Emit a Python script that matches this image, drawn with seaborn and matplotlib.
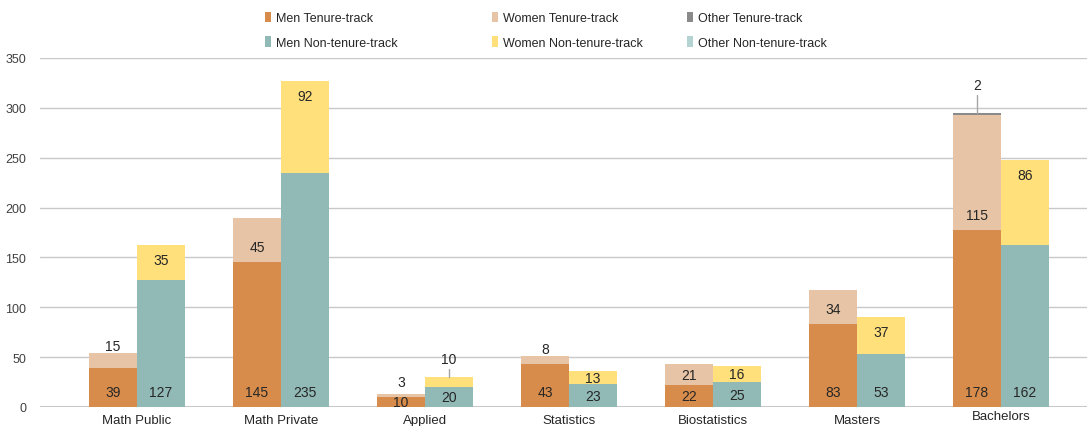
import pandas as pd
import seaborn as sns
import matplotlib.pyplot as plt
from matplotlib.patches import Patch

departments = ["Math Public", "Math Private", "Applied", "Statistics", "Biostatistics", "Masters", "Bachelors"]
tracks = ["Tenure-track", "Non-tenure-track"]

men_tenure = [39, 145, 10, 43, 22, 83, 178]
women_tenure = [15, 45, 3, 8, 21, 34, 115]
other_tenure = [0, 0, 0, 0, 0, 0, 2]
men_nontenure = [127, 235, 20, 23, 25, 53, 162]
women_nontenure = [35, 92, 10, 13, 16, 37, 86]
other_nontenure = [0, 0, 0, 0, 0, 0, 0]

colors = {
    ("Men", "Tenure-track"): "#D88C4B",
    ("Women", "Tenure-track"): "#E6C4A5",
    ("Other", "Tenure-track"): "#8A8A8A",
    ("Men", "Non-tenure-track"): "#91BAB7",
    ("Women", "Non-tenure-track"): "#FFE07B",
    ("Other", "Non-tenure-track"): "#B3D4D3",
}

df = pd.concat([
    pd.DataFrame({"dept": departments, "track": "Tenure-track",
                  "men": men_tenure, "women": women_tenure, "other": other_tenure}),
    pd.DataFrame({"dept": departments, "track": "Non-tenure-track",
                  "men": men_nontenure, "women": women_nontenure, "other": other_nontenure}),
], ignore_index=True)
df["men_women"] = df["men"] + df["women"]
df["total"] = df["men_women"] + df["other"]

sns.set_style("white")
plt.rcParams["font.family"] = ["Liberation Sans", "DejaVu Sans"]

fig = plt.figure(figsize=(10.87, 4.27), dpi=100)
ax = fig.add_axes([40 / 1087, 19 / 427, 1047 / 1087, 349 / 427])

# stacked bars: draw totals first, then lower segments over them
for col, group in [("total", "Other"), ("men_women", "Women"), ("men", "Men")]:
    sns.barplot(data=df, x="dept", y=col, hue="track", order=departments, hue_order=tracks,
                palette={t: colors[(group, t)] for t in tracks}, width=2 / 3, gap=0,
                saturation=1, linewidth=0, errorbar=None, legend=False, ax=ax)

ax.set_ylim(0, 350)
ax.set_xlim(-97 / 144, 950 / 144)
ax.set_yticks(range(0, 351, 50))
ax.grid(axis="y", color="#C8C8C8", linewidth=1)
ax.axhline(0, color="#C8C8C8", linewidth=1.5, zorder=0.5)
ax.set_axisbelow(True)
sns.despine(ax=ax, left=True, bottom=True)
ax.set_xlabel("")
ax.set_ylabel("")
ax.tick_params(axis="y", length=0, pad=10, labelsize=9, labelcolor="#404040")
ax.tick_params(axis="x", length=0, pad=5, labelsize=9.5, labelcolor="#262626")
ax.xaxis.get_major_ticks()[6].set_pad(2)

lbl = dict(ha="center", va="center", fontsize=10, color="#262626")
lead = dict(color="#A6A6A6", linewidth=1)
for _, r in df.iterrows():
    i = departments.index(r["dept"])
    x = i - 1 / 6 if r["track"] == "Tenure-track" else i + 1 / 6
    ax.text(x, min(15, r["men"] / 2), str(r["men"]), **lbl)
    w = r["women"]
    if r["track"] == "Tenure-track":
        if w < 20:
            ax.text(x, r["total"] + 7 + (5 if w < 5 else 0), str(w), **lbl)
        elif w >= 30:
            ax.text(x, r["men"] + 15, str(w), **lbl)
        else:
            ax.text(x, r["men"] + w / 2, str(w), **lbl)
    else:
        if w <= 10:
            ax.plot([x, x], [r["men_women"], r["men_women"] + 8], **lead)
            ax.text(x, r["men_women"] + 18, str(w), **lbl)
        elif w >= 30:
            ax.text(x, r["men_women"] - 15, str(w), **lbl)
        else:
            ax.text(x, r["men"] + w / 2, str(w), **lbl)
    if r["other"] > 0:
        ax.plot([x, x], [r["total"], r["total"] + 18], **lead)
        ax.text(x, r["total"] + 28, str(r["other"]), **lbl)

# legend: three columns placed like the original
legend_cols = [("Men", 265), ("Women", 492), ("Other", 687)]
for group, xpx in legend_cols:
    handles = [Patch(facecolor=colors[(group, t)], edgecolor="none", label=f"{group} {t}") for t in tracks]
    fig.legend(handles=handles, loc="upper left", bbox_to_anchor=(xpx / 1087, 1 - 13 / 427),
               frameon=False, handlelength=0.5, handleheight=0.9, handletextpad=0.35,
               labelspacing=0.95, borderaxespad=0, borderpad=0,
               prop={"size": 9}, labelcolor="#262626")

fig.savefig("out.png", dpi=100)
